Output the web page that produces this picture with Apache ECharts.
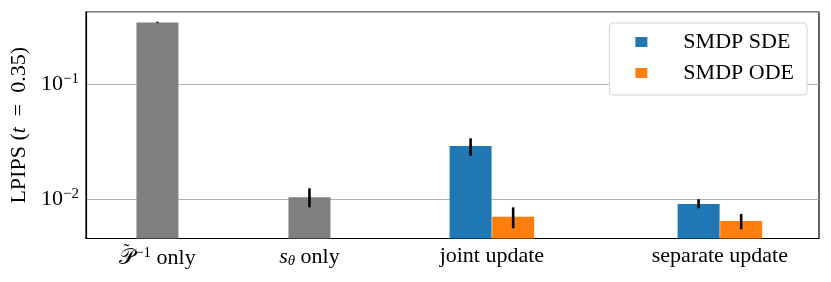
<!DOCTYPE html>
<html><head><meta charset="utf-8">
<script src="https://cdn.jsdelivr.net/npm/echarts@6/dist/echarts.min.js"></script>
<style>html,body{margin:0;padding:0;background:#fff}#c{width:831px;height:282px}</style>
</head><body><div id="c"></div>
<script>
// ---- data ----
const groupLabels = ['{tl|˜}\n{scr|𝒫}{sup|−1}{n| only}', '{tl| }\n{it|s}{sub|θ}{n| only}', '{tl| }\n{n|joint update}', '{tl| }\n{n|separate update}'];
const groupPos = [0, 1, 2.2, 3.7];
const barW = 0.28;
const baselineValues = [0.345, 0.01045];          // gray bars (groups 0,1)
const baselineErr = [[0.342, 0.349], [0.00855, 0.0125]];
const sdeValues = [0.0291, 0.00914];              // groups 2,3
const sdeErr = [[0.0240, 0.0340], [0.00839, 0.01005]];
const odeValues = [0.0071, 0.0065];
const odeErr = [[0.00562, 0.00855], [0.00551, 0.00748]];
const yMin = 0.004586, yMax = 0.4246;

const F = 'Liberation Serif';
const grayData = baselineValues.map((v, i) => [groupPos[i], v]);
const sdeData = sdeValues.map((v, i) => [groupPos[i + 2] - barW / 2, v]);
const odeData = odeValues.map((v, i) => [groupPos[i + 2] + barW / 2, v]);
const errData = [
  ...baselineErr.map((e, i) => [groupPos[i], e[0], e[1]]),
  ...sdeErr.map((e, i) => [groupPos[i + 2] - barW / 2, e[0], e[1]]),
  ...odeErr.map((e, i) => [groupPos[i + 2] + barW / 2, e[0], e[1]])
];

const chart = echarts.init(document.getElementById('c'));
const FS = 22;
const rich = {
  n: {fontFamily: F, fontSize: FS, color: '#000'},
  it: {fontFamily: F, fontSize: FS, fontStyle: 'italic', color: '#000'},
  scr: {fontFamily: F, fontSize: FS, color: '#000'},
  tl: {fontFamily: F, fontSize: 18, color: '#000', lineHeight: 2, verticalAlign: 'top', padding: [0, 62, 0, 0]},
  sup: {fontFamily: F, fontSize: 15, color: '#000', padding: [0, 0, 11, 0]},
  sub: {fontFamily: F, fontSize: 15, fontStyle: 'italic', color: '#000', padding: [8, 0, 0, 0]},
  base: {fontFamily: F, fontSize: FS, color: '#000'}
};
chart.setOption({
  animation: false,
  grid: {left: 86, right: 12, top: 12, bottom: 43.5, show: true, borderColor: '#000', borderWidth: 1.2, backgroundColor: 'transparent'},
  legend: {
    data: ['SMDP SDE', 'SMDP ODE'], orient: 'vertical', right: 24, top: 23,
    icon: 'rect', itemWidth: 12, itemHeight: 10, itemGap: 9,
    backgroundColor: '#fff', borderColor: '#d5d5d5', borderWidth: 1, borderRadius: 4,
    padding: [8, 13, 11, 26],
    textStyle: {fontFamily: F, fontSize: FS, color: '#000', padding: [0, 0, 0, 31]}
  },
  xAxis: {
    type: 'value', min: -0.47, max: 4.352,
    splitLine: {show: false}, axisTick: {show: false},
    axisLine: {onZero: false, lineStyle: {color: '#000', width: 1.2}},
    axisLabel: {customValues: groupPos, margin: 5, formatter: v => { const i = groupPos.findIndex(p => Math.abs(p - v) < 1e-6); return i >= 0 ? groupLabels[i] : ''; }, rich: rich}
  },
  yAxis: {
    type: 'log', min: yMin, max: yMax, startValue: yMin,
    name: '{n|LPIPS (}{it|t}{n|  =  0.35)}', nameLocation: 'middle', nameGap: 54,
    nameTextStyle: {rich: rich},
    axisTick: {show: false},
    axisLine: {onZero: false, lineStyle: {color: '#000', width: 1.2}},
    splitLine: {lineStyle: {color: '#b0b0b0', width: 1.2}},
    axisLabel: {showMinLabel: false, showMaxLabel: false, margin: 7, rich: rich,
      formatter: v => { const l = Math.log10(v); const e = Math.round(l); if (Math.abs(l - e) > 1e-6) return ''; return '{base|10}{sup|' + (e < 0 ? '−' + (-e) : e) + '}'; }}
  },
  series: [
    {type: 'bar', name: 'baseline', data: grayData, barWidth: 42, barGap: '-100%', itemStyle: {color: '#808080'}},
    {type: 'bar', name: 'SMDP SDE', data: sdeData, barWidth: 42, barGap: '-100%', itemStyle: {color: '#1f77b4'}},
    {type: 'bar', name: 'SMDP ODE', data: odeData, barWidth: 42, barGap: '-100%', itemStyle: {color: '#ff7f0e'}},
    {type: 'custom', name: 'err', data: errData, encode: {x: 0, y: [1, 2]}, z: 10,
      renderItem: (params, api) => {
        const a = api.coord([api.value(0), api.value(1)]);
        const b = api.coord([api.value(0), api.value(2)]);
        return {type: 'line', shape: {x1: a[0], y1: a[1], x2: b[0], y2: b[1]}, style: {stroke: '#000', lineWidth: 2.6}};
      }}
  ]
});
</script></body></html>
